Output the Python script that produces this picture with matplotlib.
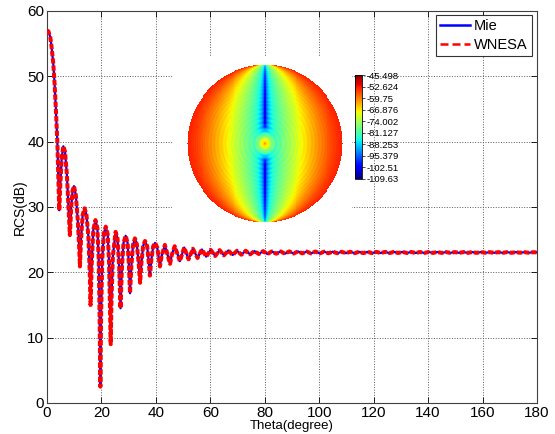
import matplotlib
matplotlib.use('Agg')
import matplotlib.pyplot as plt
from matplotlib.lines import Line2D
import numpy as np

plt.rcParams['font.family'] = ['Liberation Sans', 'DejaVu Sans']

# bistatic RCS of the sphere, 0..50 deg (big lobes)
theta_near = [0.0, 0.5, 1.2, 1.6, 2.3, 2.8, 3.3, 3.8, 4.2, 4.5, 4.9, 5.4, 6.0, 6.6, 7.3, 7.9,
              8.4, 8.9, 9.4, 9.9, 10.6, 11.3, 11.8, 12.1, 12.5, 13.1, 13.8, 14.5, 15.2, 15.7,
              16.0, 16.4, 17.0, 17.8, 18.5, 19.0, 19.3, 19.6, 19.9, 20.3, 20.9, 21.6, 22.3,
              22.8, 23.1, 23.4, 23.7, 24.2, 25.2, 25.9, 26.5, 27.0, 27.5, 28.1, 28.9, 29.6,
              30.1, 30.5, 31.0, 31.6, 32.3, 33.0, 33.7, 34.2, 34.7, 35.3, 36.0, 36.8, 37.4,
              37.8, 38.3, 39.0, 39.7, 40.5, 41.1, 41.5, 42.1, 43.3, 44.6, 45.2, 45.8, 46.9,
              48.2, 48.8]
rcs_near = [57.0, 56.9, 56.0, 54.8, 52.0, 48.8, 44.6, 40.0, 34.0, 29.5, 33.5, 37.5, 39.3, 38.5,
            35.0, 30.0, 25.7, 30.0, 32.5, 33.2, 31.8, 28.0, 24.0, 20.9, 25.0, 28.8, 29.8, 28.8,
            25.5, 20.0, 15.0, 21.0, 26.5, 28.0, 26.8, 22.0, 14.0, 2.5, 14.0, 22.0, 26.0, 27.0,
            25.8, 21.5, 15.0, 9.0, 16.0, 22.5, 26.2, 25.2, 21.0, 14.5, 20.5, 24.5, 25.6, 24.5,
            21.0, 16.8, 21.0, 24.2, 25.2, 24.3, 21.3, 18.4, 21.5, 24.0, 24.8, 24.0, 21.5, 19.5,
            21.8, 24.0, 24.5, 23.8, 22.0, 20.9, 22.5, 24.2, 22.2, 21.3, 22.6, 24.0, 22.5, 21.7]

# 50..180 deg, small ripple around 23 dB (peaks and troughs)
theta_far = [50.4, 52.0, 53.6, 55.3, 56.9, 58.5, 60.1, 61.8, 63.4, 65.0, 66.6, 68.2, 69.8, 71.4,
             73.0, 74.6, 76.2, 77.8, 79.4, 81.0, 82.6, 84.2, 85.8, 87.4, 89.0, 90.6, 92.2, 93.8,
             95.4, 97.0, 98.6, 100.2, 101.8, 103.4, 105.0, 106.6, 108.2, 109.8, 111.4, 113.0,
             114.6, 116.2, 117.8, 119.4, 121.0, 122.6, 124.2, 125.8, 127.4, 129.0, 130.6, 132.2,
             133.8, 135.4, 137.0, 138.6, 140.2, 141.8, 143.4, 145.0, 146.6, 148.2, 149.8, 151.4,
             153.0, 154.6, 156.2, 157.8, 159.4, 161.0, 162.6, 164.2, 165.8, 167.4, 169.0, 170.6,
             172.2, 173.8, 175.4, 177.0, 178.6, 180.0]
rcs_far = [23.8, 22.0, 23.6, 22.2, 23.5, 22.4, 23.45, 22.5, 23.4, 22.6, 23.35, 22.65, 23.3, 22.7,
           23.3, 22.75, 23.25, 22.8, 23.25, 22.8, 23.2, 22.85, 23.2, 22.85, 23.2, 22.88, 23.2, 22.9,
           23.18, 22.9, 23.18, 22.9, 23.16, 22.92, 23.16, 22.92, 23.15, 22.93, 23.15, 22.93,
           23.14, 22.94, 23.14, 22.94, 23.13, 22.95, 23.13, 22.95, 23.12, 22.96, 23.12, 22.96,
           23.12, 22.96, 23.11, 22.97, 23.11, 22.97, 23.11, 22.97, 23.1, 22.98, 23.1, 22.98,
           23.1, 22.98, 23.1, 22.98, 23.1, 22.99, 23.09, 22.99, 23.09, 22.99, 23.09, 22.99,
           23.09, 23.0, 23.08, 23.0, 23.08, 23.05]

theta_deg = theta_near + theta_far
mie_rcs = rcs_near + rcs_far
wnesa_rcs = list(mie_rcs)

# colorbar range / labels of the surface field map
cb_ticks = [-45.498, -52.624, -59.75, -66.876, -74.002, -81.127, -88.253, -95.379, -102.51, -109.63]
cb_labels = ['-45.498', '-52.624', '-59.75', '-66.876', '-74.002', '-81.127', '-88.253',
             '-95.379', '-102.51', '-109.63']


def sphere_field(n=161):
    # scattered field on the visible hemisphere (dB), pole axis vertical
    u = np.linspace(-1, 1, n)
    x, y = np.meshgrid(u, u)
    r2 = x**2 + y**2
    z = np.sqrt(np.clip(1 - r2, 0, None))
    s = np.abs(x) / np.sqrt(np.clip(1 - y**2, 1e-6, None))
    s = np.clip(s, 0, 1)
    v = -53.5 - 34 * (1 - s)**1.3 + 10 * np.log10((s**2 + 1e-9) / (s**2 + 0.08**2))
    tv = np.degrees(np.arccos(np.clip(z, -1, 1)))
    f = -60 - 3.2 * tv
    tot = 10 * np.log10(10**(v / 10) + 10**(f / 10))
    tot += 2.0 * np.exp(-tv / 30) * np.cos(2 * np.pi * tv / 3.4)
    tot = np.clip(tot, cb_ticks[-1], cb_ticks[0])
    return np.ma.masked_where(r2 > 1, tot)


W, H = 555, 434
fig = plt.figure(figsize=(W / 100, H / 100), dpi=100)
ax = fig.add_axes([47 / W, 1 - 403 / H, 490 / W, 392 / H])

ax.plot(theta_deg, mie_rcs, color='blue', lw=1.6, zorder=3)
ax.plot(theta_deg, wnesa_rcs, color='red', lw=2.9, linestyle=(0, (1.3, 0.5)), zorder=4)

ax.set_xlim(0, 180)
ax.set_ylim(0, 60)
ax.set_xticks(np.arange(0, 181, 20))
ax.set_yticks(np.arange(0, 61, 10))
ax.tick_params(direction='in', length=4, width=0.6, top=True, right=True, labelsize=11, pad=2)
ax.grid(True, linestyle=':', color='0.35', linewidth=0.7)
for sp in ax.spines.values():
    sp.set_linewidth(0.8)
    sp.set_color('0.25')
ax.set_xlabel('Theta(degree)', fontsize=9.5, labelpad=0)
ax.set_ylabel('RCS(dB)', fontsize=10, labelpad=0)

handles = [Line2D([], [], color='blue', lw=1.8),
           Line2D([], [], color='red', lw=1.8, linestyle=(0, (3.2, 1.6)))]
leg = ax.legend(handles, ['Mie', 'WNESA'], loc='upper right', bbox_to_anchor=(0.9898, 0.9898),
                borderaxespad=0, fancybox=False, edgecolor='0.2', framealpha=1, fontsize=10.5,
                handlelength=2.0, handletextpad=0.3, borderpad=0.3, labelspacing=0.3)
leg.get_frame().set_linewidth(0.8)

# inset: field map on the sphere
iax = fig.add_axes([172 / W, 1 - 230 / H, 180 / W, 173 / H])
iax.set_facecolor('white')
im = iax.imshow(sphere_field(), cmap='jet', vmin=cb_ticks[-1], vmax=cb_ticks[0],
                extent=[187, 343, 223, 65], interpolation='nearest', aspect='auto')
iax.set_xlim(172, 352)
iax.set_ylim(230, 57)
iax.set_xticks([])
iax.set_yticks([])
for sp in iax.spines.values():
    sp.set_visible(False)

cax = fig.add_axes([355 / W, 1 - 178.7 / H, 7 / W, 103.7 / H])
cb = fig.colorbar(im, cax=cax, ticks=cb_ticks)
cb.ax.set_yticklabels(cb_labels)
cb.ax.tick_params(labelsize=6.8, length=2, width=0.5, pad=1)
cb.outline.set_linewidth(0.6)

fig.savefig('out.png', dpi=100)
